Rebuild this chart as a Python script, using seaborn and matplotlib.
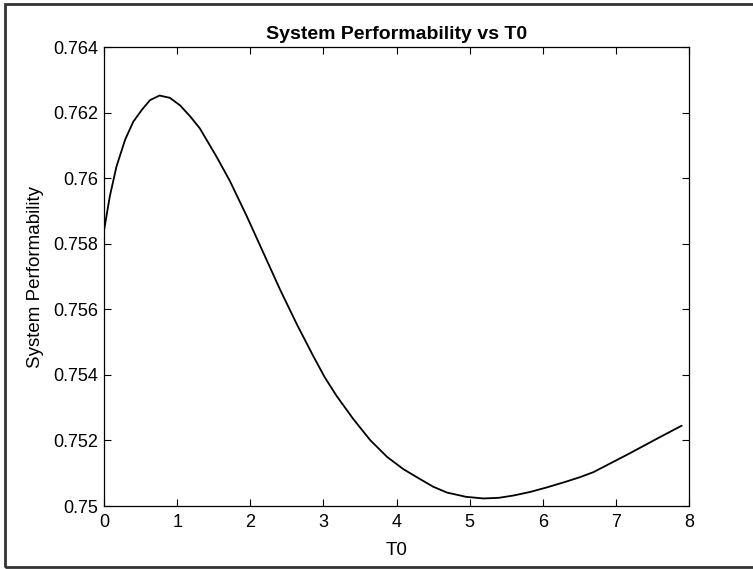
import matplotlib
matplotlib.use("Agg")
import matplotlib.pyplot as plt
import seaborn as sns
import pandas as pd
from matplotlib.patches import Rectangle

t0 = [0, 0.08, 0.17, 0.29, 0.40, 0.52, 0.63, 0.76, 0.90, 1.04, 1.18, 1.31,
      1.54, 1.72, 1.95, 2.18, 2.41, 2.64, 2.86, 3.02, 3.18, 3.41, 3.64, 3.87,
      4.09, 4.30, 4.50, 4.69, 4.95, 5.19, 5.40, 5.60, 5.83, 6.06, 6.30, 6.51,
      6.69, 7.15, 7.61, 7.90]
perf = [0.75840, 0.75945, 0.76035, 0.76118, 0.76172, 0.76209, 0.76238, 0.76252,
        0.76245, 0.76222, 0.76188, 0.76152, 0.76065, 0.75992, 0.75885, 0.75772,
        0.75659, 0.75553, 0.75458, 0.75392, 0.75336, 0.75265, 0.75201, 0.75150,
        0.75113, 0.75085, 0.75059, 0.75041, 0.75028, 0.75023, 0.75025, 0.75032,
        0.75043, 0.75057, 0.75073, 0.75088, 0.75103, 0.75156, 0.75211, 0.75245]
xticks = [0, 1, 2, 3, 4, 5, 6, 7, 8]
yticks = [0.75, 0.752, 0.754, 0.756, 0.758, 0.76, 0.762, 0.764]
ytick_labels = ["0.75", "0.752", "0.754", "0.756", "0.758", "0.76", "0.762", "0.764"]

sns.set_theme(style="white")
plt.rcParams["font.family"] = ["Liberation Sans", "DejaVu Sans"]

fig = plt.figure(figsize=(7.53, 5.69), dpi=100)
ax = fig.add_axes([104 / 753, 1 - 506 / 569, (689 - 104) / 753, (506 - 47) / 569])

df = pd.DataFrame({"T0": t0, "perf": perf})
sns.lineplot(data=df, x="T0", y="perf", ax=ax, color="black", linewidth=1.3)

ax.set_xlim(0, 8)
ax.set_ylim(0.75, 0.764)
ax.set_xticks(xticks)
ax.set_xticklabels([str(v) for v in xticks])
ax.set_yticks(yticks)
ax.set_yticklabels(ytick_labels)
ax.tick_params(direction="in", length=5, width=0.8, color="black",
               labelsize=13, labelcolor="black", top=True, right=True,
               bottom=True, left=True, pad=4)
ax.tick_params(axis="x", pad=6)
for s in ax.spines.values():
    s.set_color("black")
    s.set_linewidth(0.9)
ax.set_xlabel("T0", fontsize=13.5, color="black", labelpad=8)
ax.set_ylabel("System Performability", fontsize=13.5, color="black", labelpad=7)
ax.set_title("System Performability vs T0", fontsize=14, fontweight="bold",
             color="black", pad=6)

fig.patches.append(Rectangle((5 / 753, 2 / 569), 1.0, 563 / 569,
                             transform=fig.transFigure, fill=False,
                             edgecolor="#333333", linewidth=2.0))

fig.savefig("out.png", dpi=100)
